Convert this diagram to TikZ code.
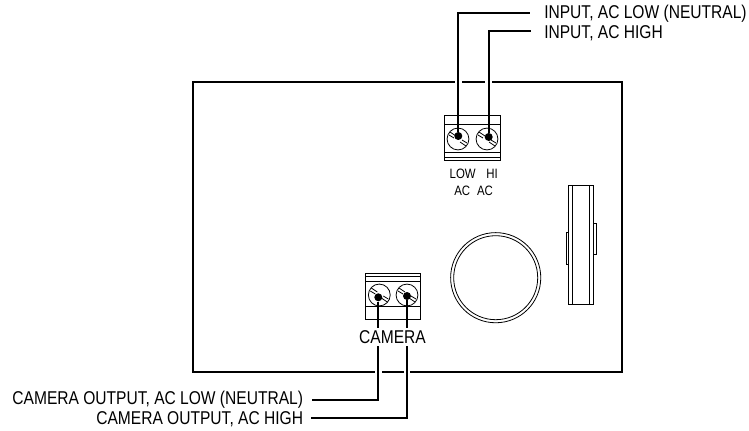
\documentclass[tikz,border=0pt]{standalone}
\usepackage{fontspec}
\setmainfont[FakeStretch=0.84]{Liberation Sans}
\tikzset{
    label/.style={inner sep=0pt,font=\fontsize{13.9}{15}\selectfont},
    small/.style={inner sep=0pt,font=\fontsize{10.2}{11}\selectfont},
    part/.style={line width=0.6pt},
    wire/.style={line width=1.7pt},
    gap/.style={line width=5pt,white},
    dot/.style={circle,fill=black,inner sep=0pt,minimum size=6pt}
}
\begin{document}
\begin{tikzpicture}[x=0.75pt,y=-0.75pt]
        \useasboundingbox (0,0) rectangle (749,431);
        % housing
        \draw[line width=1.5pt] (192.5,82) rectangle (622,372.3);
        % input terminal
        \draw[part] (444.3,115) rectangle (500.3,160);
        \draw[part] (444.3,124.5) -- (500.3,124.5);
        \draw[part] (444.3,152) -- (500.3,152);
        \draw[part] (444.3,157.5) -- (500.3,157.5);
        % camera terminal
        \draw[part] (365.3,273.5) rectangle (420.3,319);
        \draw[part] (365.3,276.5) -- (420.3,276.5);
        \draw[part] (365.3,281.7) -- (420.3,281.7);
        \draw[part] (365.3,306.7) -- (420.3,306.7);
        % screws
        \foreach \x/\y in {458/139,487/139,379.3/295,407/295} {
            \draw[part] (\x,\y) circle[radius=8.2pt];
            \draw[part] (\x-8,\y-7) -- (\x-2,\y-3);
            \draw[part] (\x-9,\y-4) -- (\x-4,\y-1);
            \draw[part] (\x+2,\y+3) -- (\x+8,\y+7);
            \draw[part] (\x+4,\y+1) -- (\x+9,\y+4);
        }
        \node[dot] (dotinlow) at (458.3,136) {};
        \node[dot] (dotinhi) at (488.7,137) {};
        \node[dot] (dotcamlow) at (378.3,297.3) {};
        \node[dot] (dotcamhi) at (407,296) {};
        % labels
        \node[label,anchor=west] (inlowtxt) at (544,13.3) {INPUT, AC LOW (NEUTRAL)};
        \node[label,anchor=west] (inhitxt) at (544,33) {INPUT, AC HIGH};
        \node[label,anchor=east] (camlowtxt) at (303.3,400) {CAMERA OUTPUT, AC LOW (NEUTRAL)};
        \node[label,anchor=east] (camhitxt) at (303.3,419) {CAMERA OUTPUT, AC HIGH};
        \node[label] (camtxt) at (392.5,337) {CAMERA};
        \node[small] (lowtxt) at (462.7,174) {LOW};
        \node[small] (hitxt) at (492,174) {HI};
        \node[small] (ac1txt) at (462.3,191) {AC};
        \node[small] (ac2txt) at (485,191) {AC};
        % wires
        \coordinate (inlowend) at (530,13.3);
        \coordinate (inhiend) at (531,31.3);
        \coordinate (camlowend) at (312,400);
        \coordinate (camhiend) at (310.7,418.3);
        \coordinate (camlowtop) at (378.3,346);
        \coordinate (camhitop) at (407,346);
        \draw[gap] (dotinlow |- 0,82) ++(0,-4) -- ++(0,8);
        \draw[gap] (dotinhi |- 0,82) ++(0,-4) -- ++(0,8);
        \draw[gap] (camlowtop |- 0,372.3) ++(0,-4) -- ++(0,8);
        \draw[gap] (camhitop |- 0,372.3) ++(0,-4) -- ++(0,8);
        \draw[wire] (dotinlow) -- (dotinlow |- inlowend) -- (inlowend);
        \draw[wire] (dotinhi) -- (dotinhi |- inhiend) -- (inhiend);
        \draw[wire] (dotcamlow) -- (dotcamlow |- 0,328);
        \draw[wire] (dotcamhi) -- (dotcamhi |- 0,328);
        \draw[wire] (camlowtop) -- (camlowtop |- camlowend) -- (camlowend);
        \draw[wire] (camhitop) -- (camhitop |- camhiend) -- (camhiend);
        % socket
        \draw[part] (495.7,277.7) circle[radius=33.8pt];
        \draw[part] (495.7,277.7) circle[radius=31.5pt];
        % relay
        \draw[part] (568.7,185.3) rectangle (593,304.3);
        \draw[part] (572,185.3) -- (572,304.3);
        \draw[part] (589.7,185.3) -- (589.7,304.3);
        \draw[part] (566,232) rectangle (568.7,264);
        \draw[part] (593,223) rectangle (596,254.7);
    \end{tikzpicture}
\end{document}
